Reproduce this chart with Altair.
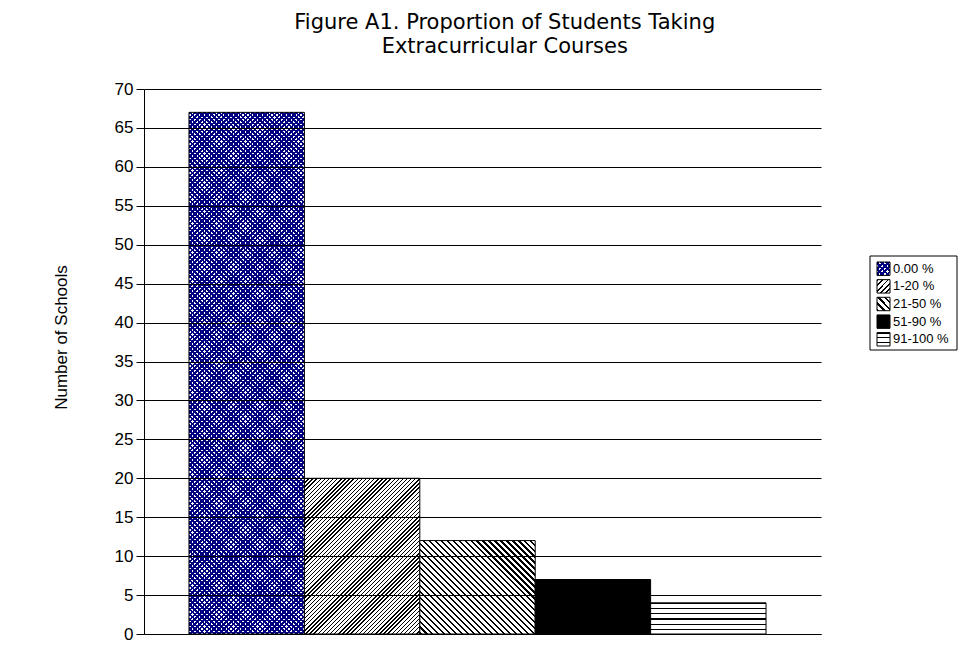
import math
import altair as alt
import pandas as pd

# ---- data ----
categories = ["0.00 %", "1-20 %", "21-50 %", "51-90 %", "91-100 %"]
schools = [67, 20, 12, 7, 4]

title_lines = ["Figure A1. Proportion of Students Taking", "Extracurricular Courses"]
y_title = "Number of Schools"
y_ticks = list(range(0, 75, 5))

# ---- layout / style constants ----
PLOT_W, PLOT_H = 677, 545
Y_MAX = 70
PAD_OUTER = 0.433
BAR_W = PLOT_W / (len(categories) + 2 * PAD_OUTER)
PX_PER_UNIT = PLOT_H / Y_MAX
SW = 13  # legend swatch size
NAVY = "#000080"
FONT = "Liberation Sans"


def hatch(w, h, period, frac, line_color, bg_color, direction):
    """Linear-gradient stripe fill (bounding-box units) approximating a hatch pattern."""
    if direction == "-":
        x1, y1, x2, y2 = 0, 0, 0, 1
        length = h
    else:
        s = (1 / h + 1 / w) / (1 / h ** 2 + 1 / w ** 2)
        length = (w + h) / math.sqrt(2)
        if direction == "/":
            x1, y1, x2, y2 = 0, 0, s / h, s / w
        else:
            x1, y1, x2, y2 = 0, 1, s / h, 1 - s / w
    n = max(1, round(length / period))
    stops = []
    for i in range(n):
        a, b, c = i / n, (i + frac) / n, (i + 1) / n
        stops += [
            {"offset": a, "color": line_color},
            {"offset": b, "color": line_color},
            {"offset": b, "color": bg_color},
            {"offset": c, "color": bg_color},
        ]
    return {"gradient": "linear", "x1": x1, "y1": y1, "x2": x2, "y2": y2, "stops": stops}


def fills(w, h, idx, small=False):
    """Return list of fill layers for category idx."""
    if idx == 0:
        p = 3.4
        return [
            hatch(w, h, p, 0.52, NAVY, "white", "/"),
            hatch(w, h, p, 0.52, NAVY, "rgba(0,0,128,0)", "\\"),
        ]
    if idx == 1:
        return [hatch(w, h, 2.9 if not small else 3.6, 0.34, "black", "white", "/")]
    if idx == 2:
        return [hatch(w, h, 4.2, 0.38, "black", "white", "\\")]
    if idx == 3:
        return ["black"]
    return [hatch(w, h, 5.0 if not small else 4.3, 0.24, "black", "white", "-")]


df = pd.DataFrame({"category": categories, "schools": schools})
ldf = pd.DataFrame({"item": categories})

x_enc = alt.X(
    "category:N",
    sort=categories,
    scale=alt.Scale(domain=categories, paddingInner=0, paddingOuter=PAD_OUTER, align=0.45),
    axis=alt.Axis(labels=False, ticks=False, title=None, domain=True,
                  domainColor="black", domainWidth=1, grid=False, zindex=1),
)
y_enc = alt.Y(
    "schools:Q",
    scale=alt.Scale(domain=[0, Y_MAX], nice=False),
    axis=alt.Axis(
        values=y_ticks, title=y_title, grid=True, gridColor="black", gridOpacity=1,
        gridWidth=1, domain=True, domainColor="black", domainWidth=1,
        tickColor="black", tickSize=8, tickWidth=1,
        labelFont=FONT, labelFontSize=17, labelColor="black", labelPadding=3,
        titleFont=FONT, titleFontSize=17, titleFontWeight="normal", titleColor="black",
        titleAngle=270, titleX=-83, titleY=248, titleAlign="center", titleBaseline="middle",
        zindex=1,
    ),
)

base = alt.Chart(df)
bar_layers = []
for i, cat in enumerate(categories):
    h = schools[i] * PX_PER_UNIT
    fl = fills(BAR_W, h, i)
    for j, f in enumerate(fl):
        last = j == len(fl) - 1
        bar_layers.append(
            base.transform_filter(alt.datum.category == cat)
            .mark_bar(fill=f, stroke="black" if last else None, strokeWidth=1 if last else 0,
                      opacity=1)
            .encode(x=x_enc, y=y_enc)
        )

main = alt.layer(*bar_layers).properties(width=PLOT_W, height=PLOT_H)

# ---- manual legend ----
L_W = 87
ly = alt.Y(
    "item:N", sort=categories,
    scale=alt.Scale(domain=categories, range=[173, 257], paddingInner=0.24, paddingOuter=0.0),
    axis=None,
)
lbase = alt.Chart(ldf)
leg_layers = [
    lbase.transform_filter(alt.datum.item == categories[0])
    .mark_rect(fill="white", stroke="black", strokeWidth=1)
    .encode(x=alt.value(0), x2=alt.value(L_W), y=alt.value(167), y2=alt.value(261))
]
for i, cat in enumerate(categories):
    fl = fills(SW, SW, i, small=True)
    for j, f in enumerate(fl):
        last = j == len(fl) - 1
        leg_layers.append(
            lbase.transform_filter(alt.datum.item == cat)
            .mark_rect(fill=f, stroke="black" if last else None, strokeWidth=1 if last else 0)
            .encode(x=alt.value(7), x2=alt.value(7 + SW), y=ly)
        )
leg_layers.append(
    lbase.mark_text(align="left", baseline="middle", font=FONT, fontSize=13, color="black")
    .encode(x=alt.value(23), y=ly, text="item:N")
)
legend = alt.layer(*leg_layers).properties(width=L_W, height=PLOT_H)

chart = (
    alt.hconcat(main, legend, spacing=48)
    .resolve_scale(x="independent", y="independent")
    .properties(
        title=alt.TitleParams(
            title_lines, font="DejaVu Sans", fontSize=21, fontWeight="normal",
            color="black", anchor="middle", lineHeight=24, offset=23,
        ),
        padding={"left": 44, "top": 4, "right": 5, "bottom": 5},
        background="white",
    )
    .configure_view(stroke=None)
)

chart.save("out.html", embed_options={"renderer": "svg", "actions": False})
